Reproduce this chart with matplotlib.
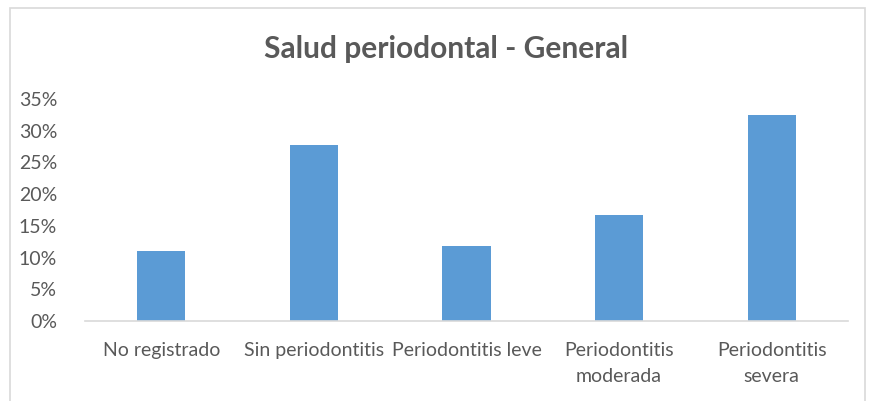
import matplotlib.pyplot as plt
import matplotlib.patches as mpatches
from matplotlib.ticker import PercentFormatter

CATEGORIES = ["No registrado", "Sin periodontitis", "Periodontitis leve",
              "Periodontitis\nmoderada", "Periodontitis\nsevera"]
VALUES = [0.111, 0.278, 0.119, 0.167, 0.325]

BAR_COLOR = "#5B9BD5"
TEXT_COLOR = "#595959"

plt.rcParams["font.family"] = ["Lato", "DejaVu Sans"]

fig = plt.figure(figsize=(8.69, 4.01), dpi=100)
ax = fig.add_axes([0.0978, 0.1995, 0.878, 0.5535])

x = range(len(CATEGORIES))
ax.bar(x, VALUES, width=0.315, color=BAR_COLOR, zorder=2)

ax.set_xlim(-0.5, len(CATEGORIES) - 0.5)
ax.set_ylim(0, 0.35)
ax.set_yticks([i * 0.05 for i in range(8)])
ax.yaxis.set_major_formatter(PercentFormatter(1.0, decimals=0))
ax.set_xticks(list(x))
ax.set_xticklabels(CATEGORIES, linespacing=1.65)
ax.tick_params(axis="both", length=0, labelsize=14, colors=TEXT_COLOR)
ax.tick_params(axis="x", pad=15)
ax.tick_params(axis="y", pad=20)

for side in ["top", "right", "left"]:
    ax.spines[side].set_visible(False)
ax.spines["bottom"].set_color("#D9D9D9")
ax.spines["bottom"].set_linewidth(1.2)

fig.suptitle("Salud periodontal - General", fontsize=21.5, fontweight="bold",
             color=TEXT_COLOR, x=0.513, y=0.912)

# chart border
border = mpatches.Rectangle((10 / 869, -0.05), 855 / 869, 1 - 8 / 401 + 0.05,
                            transform=fig.transFigure, fill=False,
                            edgecolor="#D9D9D9", linewidth=1.2)
fig.patches.append(border)

plt.savefig("out.png", dpi=100)
plt.close()
